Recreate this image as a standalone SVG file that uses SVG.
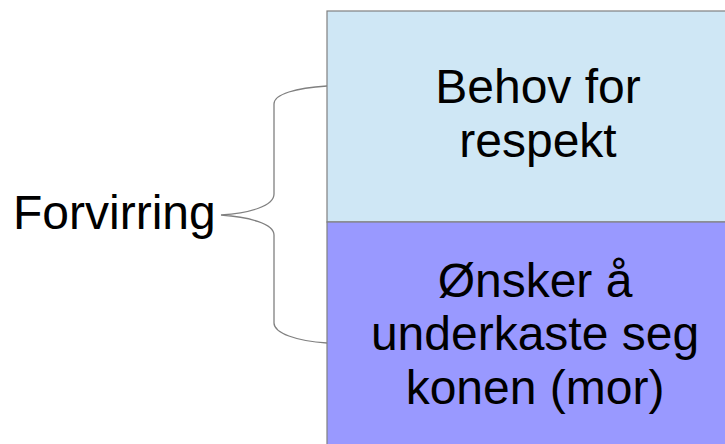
<svg xmlns="http://www.w3.org/2000/svg" width="725" height="444" viewBox="0 0 725 444">
<style>
text { font-family: "Liberation Sans", Arial, sans-serif; font-size: 48px; fill: #000; }
.box { stroke: #808080; stroke-width: 1.2; }
.brace { fill: none; stroke: #808080; stroke-width: 1.3; }
</style>
<rect width="725" height="444" fill="#ffffff"/>
<g id="node-respekt">
<rect class="box" x="327" y="11" width="420" height="211" fill="#cfe7f5"/>
<text x="538" y="103" text-anchor="middle">Behov for</text>
<text x="538" y="157" text-anchor="middle">respekt</text>
</g>
<g id="node-underkaste">
<rect class="box" x="327" y="222" width="420" height="240" fill="#9999ff"/>
<text x="535" y="297" text-anchor="middle">Ønsker å</text>
<text x="535" y="350" text-anchor="middle">underkaste seg</text>
<text x="535" y="404" text-anchor="middle">konen (mor)</text>
</g>
<g id="node-forvirring">
<text x="13" y="229">Forvirring</text>
</g>
<g id="connectors">
<path class="brace" d="M327,86 C296,88 274,94 274,104 L274,194 C274,206 250,213 221,215 C250,217 274,224 274,235 L274,323 C274,333 296,341 327,343"/>
</g>
</svg>
